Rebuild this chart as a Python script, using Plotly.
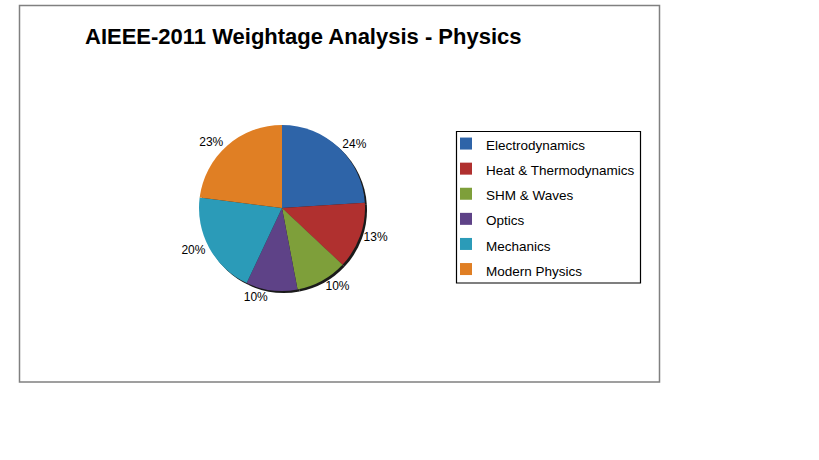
import plotly.graph_objects as go

topics = ["Electrodynamics", "Heat & Thermodynamics", "SHM & Waves",
          "Optics", "Mechanics", "Modern Physics"]
weightage = [24, 13, 10, 10, 20, 23]
colors = ["#2E64A8", "#B0302F", "#7E9F3A", "#5E4287", "#2B9BB8", "#E07F24"]

W, H = 819, 460
cx, cy, r = 282, 208, 83


def px_x(v):
    return v / W


def px_y(v):
    return 1 - v / H


font = "Liberation Sans, Arial"
# legend font is larger than the shown text so the rows get more spacing
legend_labels = ['<span style="font-size:13.5px">%s</span>' % t for t in topics]

fig = go.Figure()

# dark copy behind for the drop shadow
fig.add_trace(
    go.Pie(
        labels=legend_labels,
        values=weightage,
        sort=False,
        direction="clockwise",
        marker=dict(colors=["#1a1a1a"] * len(topics), line=dict(width=0)),
        textinfo="none",
        showlegend=False,
        hoverinfo="skip",
        domain=dict(x=[px_x(cx - r + 2), px_x(cx + r + 2)],
                    y=[px_y(cy + r + 2), px_y(cy - r + 2)]),
    )
)

fig.add_trace(
    go.Pie(
        labels=legend_labels,
        values=weightage,
        sort=False,
        direction="clockwise",
        marker=dict(colors=colors, line=dict(width=0)),
        textposition="outside",
        texttemplate="%{value}%",
        textfont=dict(family=font, size=12, color="black"),
        domain=dict(x=[px_x(cx - r), px_x(cx + r)], y=[px_y(cy + r), px_y(cy - r)]),
        hovertemplate="%{value}%<extra></extra>",
    )
)

fig.update_layout(
    width=W,
    height=H,
    margin=dict(l=0, r=0, t=0, b=0),
    paper_bgcolor="white",
    plot_bgcolor="white",
    font=dict(family=font, color="black"),
    showlegend=True,
    legend=dict(
        x=px_x(446), y=px_y(126), xanchor="left", yanchor="top",
        bgcolor="rgba(0,0,0,0)", borderwidth=0, itemwidth=30,
        font=dict(size=17, family=font),
    ),
    annotations=[
        dict(
            text="<b>AIEEE-2011 Weightage Analysis - Physics</b>",
            x=px_x(83), y=px_y(36), xref="paper", yref="paper",
            xanchor="left", yanchor="middle", showarrow=False,
            font=dict(size=22, family=font, color="black"),
        )
    ],
    shapes=[
        dict(type="rect", xref="paper", yref="paper",
             x0=px_x(19.5), x1=px_x(659.5), y0=px_y(382), y1=px_y(5.5),
             line=dict(color="#808080", width=1.5)),
        dict(type="rect", xref="paper", yref="paper",
             x0=px_x(456.5), x1=px_x(640.5), y0=px_y(283), y1=px_y(131.5),
             line=dict(color="black", width=1.2)),
    ],
)

# drop the page's default body margin so the figure sits at the window corner
fig.write_html("out.html", config={"displayModeBar": False},
               post_script="document.body.style.margin='0';")
